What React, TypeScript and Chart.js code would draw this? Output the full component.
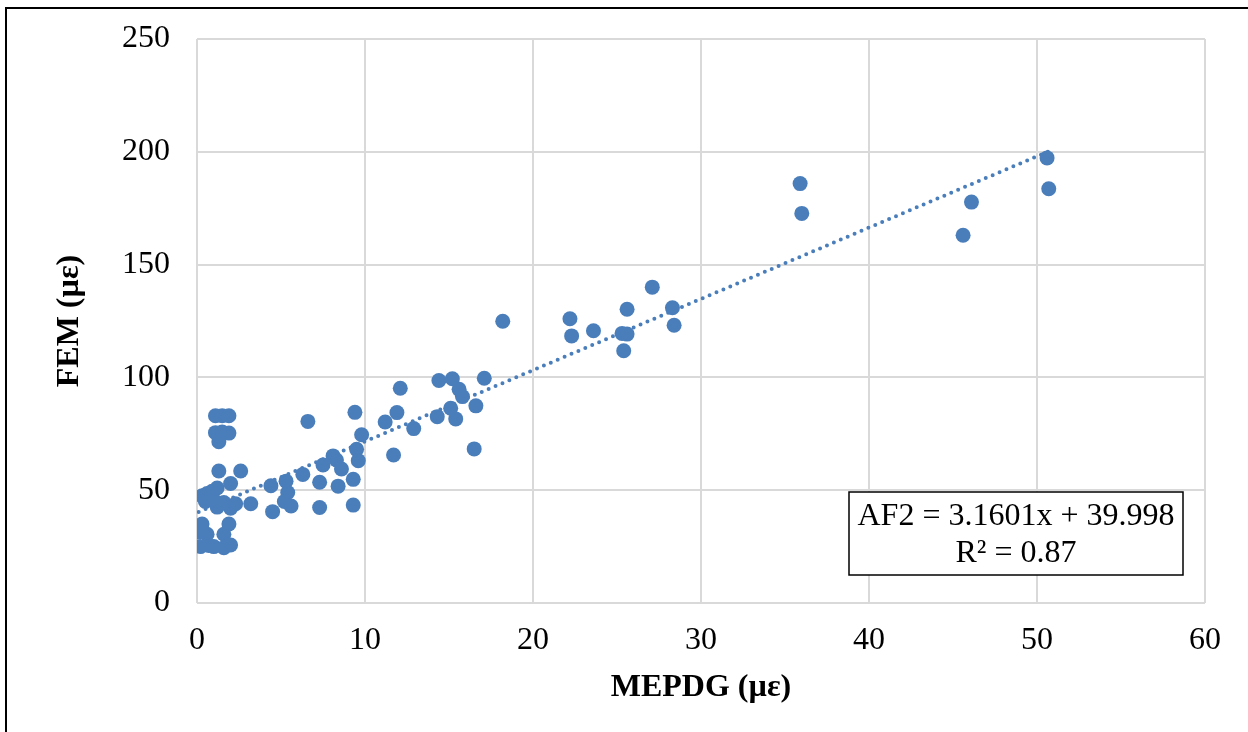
import React, { useEffect, useRef } from "react";
import { Chart, registerables } from "chart.js";

Chart.register(...registerables);

// MEPDG strain (x) and FEM strain (y), in microstrain
const mepdg = [
  1.1, 1.5, 1.9, 1.1, 1.5, 1.9, 1.3, 1.3, 2.6, 2.0,
  1.2, 0.9, 0.6, 0.3, 0.5, 1.1, 1.2, 2.0, 2.3, 3.2,
  0.3, 0.1, 0.6, 1.6, 1.9, 0.2, 0.7, 1.0, 1.6, 2.0,
  1.6, 4.4, 4.5, 5.3, 5.4, 5.2, 5.6, 6.3, 6.6, 7.3,
  7.3, 7.5, 8.1, 8.3, 8.6, 8.4, 9.3, 9.3, 9.4, 9.5,
  9.6, 9.8, 11.2, 11.7, 11.9, 12.1, 12.9, 14.3, 14.4, 15.1,
  15.2, 15.4, 15.6, 15.8, 16.5, 16.6, 17.1, 18.2, 22.2, 22.3,
  23.6, 25.3, 25.6, 25.6, 25.4, 27.1, 28.3, 28.4, 35.9, 36.0,
  45.6, 46.1, 50.6, 50.7,
];
const fem = [
  83, 83, 83, 75.5, 75.8, 75.3, 71.5, 58.5, 58.5, 53,
  51, 49.5, 48.5, 47.5, 45, 45, 42.5, 42, 44, 44,
  35, 31.5, 30.5, 30.5, 35, 25, 25.5, 25, 24.5, 25.7,
  44.5, 52, 40.5, 54, 49, 45, 43, 57, 80.5, 53.5,
  42.3, 61.2, 65.2, 63.4, 59.4, 51.8, 54.8, 43.4, 84.5, 68.1,
  63.1, 74.6, 80.2, 65.6, 84.4, 95.2, 77.3, 82.6, 98.6, 86.3,
  99.4, 81.6, 94.7, 91.5, 68.3, 87.4, 99.6, 124.9, 126, 118.4,
  120.7, 119.5, 119.2, 130.2, 111.8, 140, 130.9, 123.1, 185.9, 172.7,
  163, 177.7, 197.3, 183.6,
];

// linear trendline end points
const trendX = [0.1, 50.7];
const trendY = [40.314, 200.21];

const xTickValues = [0, 10, 20, 30, 40, 50, 60];
const yTickValues = [0, 50, 100, 150, 200, 250];

const xTitle = "MEPDG (µε)";
const yTitle = "FEM (µε)";
const equationLines = ["AF2 = 3.1601x + 39.998", "R² = 0.87"];

const SERIF = "'Liberation Serif', 'Times New Roman', serif";
const BLUE = "#4A7EBB";

const equationBox = {
  id: "equationBox",
  afterDraw(chart: any) {
    const { ctx, chartArea } = chart;
    const w = 334;
    const h = 83;
    const right = chartArea.right - 22;
    const bottom = chartArea.bottom - 28;
    const left = right - w;
    const top = bottom - h;
    ctx.save();
    ctx.fillStyle = "#ffffff";
    ctx.fillRect(left, top, w, h);
    ctx.strokeStyle = "#000000";
    ctx.lineWidth = 1.5;
    ctx.strokeRect(left, top, w, h);
    ctx.fillStyle = "#000000";
    ctx.font = `32px ${SERIF}`;
    ctx.textAlign = "center";
    ctx.textBaseline = "middle";
    const cx = left + w / 2;
    ctx.fillText(equationLines[0], cx, top + 25);
    ctx.fillText(equationLines[1], cx, top + 62);
    ctx.restore();
  },
};

export default function App() {
  const canvasRef = useRef<HTMLCanvasElement | null>(null);

  useEffect(() => {
    const canvas = canvasRef.current;
    if (!canvas) return;
    const chart = new Chart(canvas, {
      type: "scatter",
      data: {
        datasets: [
          {
            label: "FEM",
            data: mepdg.map((x, i) => ({ x, y: fem[i] })),
            backgroundColor: BLUE,
            borderWidth: 0,
            pointRadius: 7.5,
            pointHoverRadius: 7.5,
            order: 2,
          },
          {
            type: "line",
            label: "Trend",
            data: trendX.map((x, i) => ({ x, y: trendY[i] })),
            borderColor: BLUE,
            borderWidth: 4,
            borderDash: [0, 7.5],
            borderCapStyle: "round",
            pointRadius: 0,
            showLine: true,
            fill: false,
            order: 1,
          } as any,
        ],
      },
      options: {
        responsive: false,
        animation: false,
        layout: { padding: { left: 0, top: 39, right: 43, bottom: 0 } },
        plugins: {
          legend: { display: false },
          tooltip: { enabled: false },
        },
        scales: {
          x: {
            type: "linear",
            min: 0,
            max: 60,
            afterBuildTicks: (scale: any) => {
              scale.ticks = xTickValues.map((v) => ({ value: v }));
            },
            afterFit: (scale: any) => {
              scale.height = 129;
              scale.paddingLeft = 0;
              scale.paddingRight = 0;
            },
            grid: { color: "#d9d9d9", lineWidth: 2, drawTicks: false },
            border: { display: false },
            ticks: {
              color: "#000000",
              padding: 18,
              font: { family: SERIF, size: 32 },
            },
            title: {
              display: true,
              text: xTitle,
              color: "#000000",
              font: { family: SERIF, size: 32, weight: "bold" },
              padding: { top: 0, bottom: 25 },
            },
          },
          y: {
            type: "linear",
            min: 0,
            max: 250,
            afterBuildTicks: (scale: any) => {
              scale.ticks = yTickValues.map((v) => ({ value: v }));
            },
            afterFit: (scale: any) => {
              scale.width = 197;
              scale.paddingTop = 0;
              scale.paddingBottom = 0;
            },
            grid: { color: "#d9d9d9", lineWidth: 2, drawTicks: false },
            border: { display: false },
            ticks: {
              color: "#000000",
              padding: 27,
              font: { family: SERIF, size: 32 },
            },
            title: {
              display: true,
              text: yTitle,
              color: "#000000",
              font: { family: SERIF, size: 32, weight: "bold" },
              padding: { top: 51, bottom: 0 },
            },
          },
        },
      },
      plugins: [equationBox],
    });
    return () => chart.destroy();
  }, []);

  return (
    <div
      style={{
        position: "fixed",
        left: 0,
        top: 0,
        width: 1248,
        height: 732,
        overflow: "hidden",
        background: "#ffffff",
      }}
    >
      <div
        style={{
          position: "absolute",
          left: 5,
          top: 7,
          width: 1400,
          height: 900,
          borderLeft: "2px solid #000000",
          borderTop: "2px solid #000000",
        }}
      />
      <canvas
        ref={canvasRef}
        width={1248}
        height={732}
        style={{ position: "absolute", left: 0, top: 0, width: 1248, height: 732 }}
      />
    </div>
  );
}
